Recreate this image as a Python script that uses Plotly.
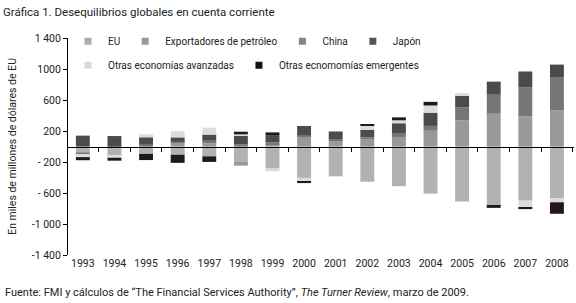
import plotly.graph_objects as go

years = list(range(1993, 2009))
year_labels = [str(y) for y in years]

eu = [-72, -115, -95, -106, -127, -200, -285, -405, -385, -455, -512, -608, -710, -762, -698, -665]
exportadores = [-15, -5, 12, 50, 40, -47, 30, 127, 82, 89, 123, 203, 338, 423, 389, 465]
china = [-10, 5, 18, 13, 34, 30, 25, 20, 15, 30, 42, 63, 169, 245, 372, 431]
japon = [140, 130, 89, 55, 80, 106, 93, 118, 97, 97, 135, 170, 157, 169, 207, 161]
otras_avanzadas = [-40, -25, 38, 80, 89, 21, -34, -45, 0, 51, 38, 93, 25, -5, -85, -55]
otras_emergentes = [-40, -38, -80, -105, -72, 34, 34, -22, 0, 21, 38, 47, 0, -25, -25, -148]

series_names = ["EU", "Exportadores de petróleo", "China", "Japón",
                "Otras economías avanzadas", "Otras ecnomomías emergentes"]
series_values = [eu, exportadores, china, japon, otras_avanzadas, otras_emergentes]
bar_colors = ["#b1b1b6", "#99999b", "#767676", "#4b4b4b", "#dcdcdf", "#231815"]
legend_colors = ["#ababab", "#999999", "#858585", "#555555", "#dadada", "#111111"]

y_ticks = [1400, 1000, 600, 200, -200, -600, -1000, -1400]
y_ticktext = ["1 400", "1000", "600", "200", "- 200", "- 600", "-1 000", "-1 400"]
boundaries = [y + 0.5 for y in years]

FONT = "Roboto, Liberation Sans Narrow, DejaVu Sans Condensed, sans-serif"

fig = go.Figure()
for name, vals, col in zip(series_names, series_values, bar_colors):
    fig.add_trace(go.Bar(x=years, y=vals, name=name, width=0.44,
                         marker=dict(color=col, line=dict(width=0)),
                         showlegend=False))

for i, (name, col) in enumerate(zip(series_names, legend_colors)):
    fig.add_trace(go.Scatter(x=[None], y=[None], mode="markers", name=name,
                             marker=dict(symbol="square", size=7, color=col),
                             legend="legend" if i < 4 else "legend2"))

xr = [1992.53, 2008.54]
fig.update_layout(
    width=576, height=303,
    margin=dict(l=68, r=2, t=38, b=48),
    barmode="relative",
    paper_bgcolor="white", plot_bgcolor="white",
    font=dict(family=FONT, size=10.5, color="#222222"),
    title=dict(text="Gráfica 1. Desequilibrios globales en cuenta corriente",
               x=0.005, xanchor="left", y=0.962, yanchor="middle",
               font=dict(family=FONT, size=11.5, color="#222222")),
    xaxis=dict(range=xr, tickvals=years, ticktext=year_labels, showline=False,
               ticks="", showgrid=False, zeroline=False,
               tickfont=dict(size=10.5)),
    xaxis2=dict(range=xr, overlaying="x", anchor="free", position=0.5,
                tickvals=boundaries, ticks="outside", ticklen=4, tickcolor="black",
                showticklabels=False, showline=True, linecolor="black", linewidth=1,
                showgrid=False, zeroline=False),
    yaxis=dict(range=[-1400, 1400], tickvals=y_ticks, ticktext=y_ticktext,
               showline=True, linecolor="black", linewidth=1, ticks="outside",
               ticklen=4, tickcolor="black", showgrid=False, zeroline=False,
               tickfont=dict(size=10.5)),
    legend=dict(orientation="h", x=0.0, y=0.985, xanchor="left", yanchor="middle",
                bgcolor="rgba(0,0,0,0)", font=dict(size=10), itemwidth=30),
    legend2=dict(orientation="h", x=0.0, y=0.875, xanchor="left", yanchor="middle",
                 bgcolor="rgba(0,0,0,0)", font=dict(size=10), itemwidth=30),
)

fig.add_trace(go.Scatter(x=[None], y=[None], xaxis="x2", showlegend=False))

fig.add_annotation(text="En miles de millones de dólares de EU", textangle=-90,
                   xref="paper", yref="paper", x=-0.11, y=0.5,
                   xanchor="center", yanchor="middle", showarrow=False,
                   font=dict(size=10.5))
fig.add_annotation(text="Fuente: FMI y cálculos de “The Financial Services Authority”, "
                        "<i>The Turner Review</i>, marzo de 2009.",
                   xref="paper", yref="paper", x=-0.128, y=-0.175,
                   xanchor="left", yanchor="middle", showarrow=False,
                   font=dict(size=11))

fig.write_html("out.html", config={"displayModeBar": False},
               post_script="document.body.style.margin='0';")
